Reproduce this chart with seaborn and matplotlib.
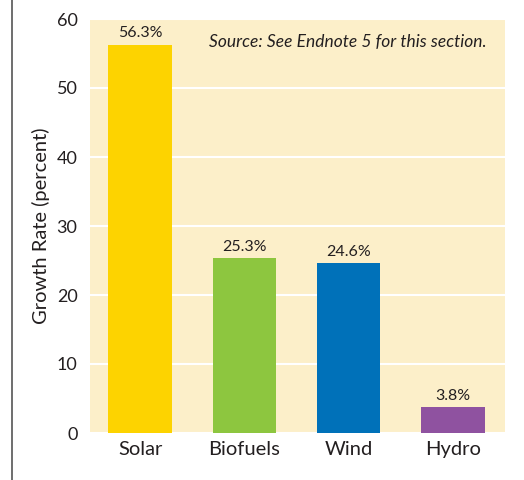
import matplotlib
matplotlib.use("Agg")
import matplotlib.pyplot as plt
import seaborn as sns
import pandas as pd
from matplotlib.lines import Line2D

categories = ["Solar", "Biofuels", "Wind", "Hydro"]
growth = [56.3, 25.3, 24.6, 3.8]
labels = ["56.3%", "25.3%", "24.6%", "3.8%"]
colors = ["#FDD300", "#8DC63F", "#0071B9", "#8F52A0"]
yticks = [0, 10, 20, 30, 40, 50, 60]

sns.set_theme(style="white")
plt.rcParams["font.family"] = ["Lato", "DejaVu Sans"]

df = pd.DataFrame({"cat": categories, "val": growth})

fig = plt.figure(figsize=(5.24, 4.8), dpi=100)
ax = fig.add_axes([90/524, 47/480, 415/524, 414/480])
ax.set_facecolor("#FCEFC9")

sns.barplot(data=df, x="cat", y="val", hue="cat", palette=colors,
            width=0.61, saturation=1, legend=False, ax=ax, zorder=3,
            linewidth=0, edgecolor="none")

ax.set_ylim(0, 60)
ax.set_xlim(-0.48, 3.5)
ax.set_yticks(yticks)
ax.set_yticklabels([str(t) for t in yticks], fontsize=13, color="#231F20")
ax.grid(axis="y", color="white", linewidth=1.5, zorder=1)
ax.set_axisbelow(True)
for s in ax.spines.values():
    s.set_visible(False)
ax.tick_params(axis="x", length=0, pad=6, labelsize=14.5, colors="#231F20")
ax.tick_params(axis="y", length=0, pad=9, labelsize=13, colors="#231F20")
ax.set_xlabel("")
ax.set_ylabel("Growth Rate (percent)", fontsize=14.5, color="#231F20", labelpad=5)

for i, (v, lab) in enumerate(zip(growth, labels)):
    ax.text(i, v + 0.6, lab, ha="center", va="bottom", fontsize=11.5, color="#231F20")

ax.text(0.955, 0.945, "Source: See Endnote 5 for this section.", transform=ax.transAxes,
        ha="right", va="center", fontsize=12.5, style="italic", color="#231F20")

fig.add_artist(Line2D([11.5/524, 11.5/524], [0, 1], transform=fig.transFigure,
                      color="#555555", linewidth=1.2))

fig.savefig("out.png", dpi=100, facecolor="white")
